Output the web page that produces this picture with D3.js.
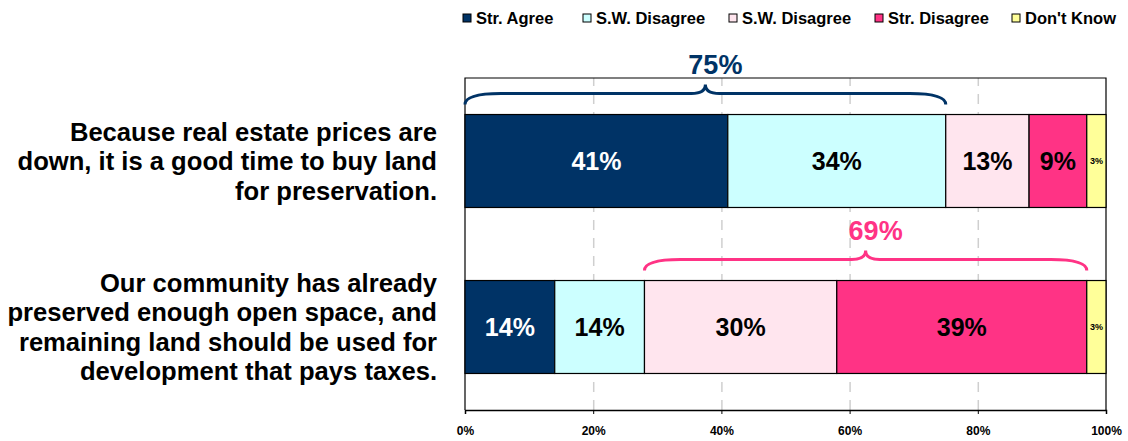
<html>
<head>
  <meta charset="UTF-8">
  <title>Land preservation opinions</title>
  <script src="https://d3js.org/d3.v7.min.js"></script>
  <style>
    body { margin: 0; background: #fff; }
    text { font-family: "Liberation Sans", Arial, sans-serif; font-weight: bold; }
  </style>
</head>
<body>
    <svg id="svg1" width="1128" height="441"></svg>

    <script>
        // data
        const questions = [
            ["Because real estate prices are", "down, it is a good time to buy land", "for preservation."],
            ["Our community has already", "preserved enough open space, and", "remaining land should be used for", "development that pays taxes."]
        ];
        const categories = ["Str. Agree", "S.W. Disagree", "S.W. Disagree", "Str. Disagree", "Don't Know"];
        const colors = ["#003366", "#CCFFFF", "#FFE5EE", "#FF3385", "#FFFF99"];
        const values = [
            [41, 34, 13, 9, 3],
            [14, 14, 30, 39, 3]
        ];
        const ticks = [0, 20, 40, 60, 80, 100];
        // which segments each brace groups together
        const braces = [
            { row: 0, first: 0, last: 1, color: "#003366" },
            { row: 1, first: 2, last: 3, color: "#FF3385" }
        ];

        const svg1 = d3.select("#svg1");
        const margin = { top: 78, right: 22, bottom: 31, left: 465 };
        const width = +svg1.attr("width");
        const height = +svg1.attr("height");
        const plotWidth = width - margin.left - margin.right;
        const plotHeight = height - margin.top - margin.bottom;

        const plot = svg1.append("g")
                        .attr("transform", `translate(${margin.left},${margin.top})`);

        const xScale = d3.scaleLinear([0, 100], [0, plotWidth]);
        const yScale = d3.scaleBand(d3.range(questions.length), [0, plotHeight])
                        .paddingInner(0.44).paddingOuter(0.22);

        // gridlines
        let grid = d3.axisBottom(xScale).tickValues(ticks.slice(1, -1)).tickFormat("").tickSize(-plotHeight);
        plot.append("g")
            .attr("class", "x gridlines")
            .attr("transform", `translate(0,${plotHeight})`)
            .call(grid)
            .call(g => g.select(".domain").remove())
            .call(g => g.selectAll("line").attr("stroke", "#cfcfcf").attr("stroke-width", 1.5).attr("stroke-dasharray", "10,8"));

        // frame
        plot.append("path")
            .attr("d", `M0,${plotHeight}V0H${plotWidth}V${plotHeight}`)
            .attr("fill", "none")
            .attr("stroke", "#000")
            .attr("stroke-width", 1.2);

        // bottom axis
        let bottomAxis = d3.axisBottom(xScale).tickValues(ticks).tickFormat(d => d + "%").tickSize(4).tickPadding(12);
        plot.append("g")
            .attr("class", "x axis")
            .attr("transform", `translate(0,${plotHeight})`)
            .call(bottomAxis)
            .call(g => g.select(".domain").attr("stroke-width", 1.5))
            .call(g => g.selectAll("text").attr("font-size", "12px").attr("fill", "#000")
                    .style("font-family", "'Liberation Sans', Arial, sans-serif").style("font-weight", "bold"));

        // stacked segments
        const rows = values.map((vals, i) => {
            let start = 0;
            return vals.map((v, j) => {
                let seg = { row: i, cat: j, value: v, x0: start, x1: start + v };
                start += v;
                return seg;
            });
        });

        let rowG = plot.selectAll("g.row").data(rows).join("g").attr("class", "row");

        rowG.selectAll("rect").data(d => d).join("rect")
            .attr("x", d => xScale(d.x0))
            .attr("y", d => yScale(d.row))
            .attr("width", d => xScale(d.x1) - xScale(d.x0))
            .attr("height", yScale.bandwidth())
            .attr("fill", d => colors[d.cat])
            .attr("stroke", "#000")
            .attr("stroke-width", 1.2);

        rowG.selectAll("text").data(d => d).join("text")
            .attr("x", d => xScale((d.x0 + d.x1) / 2))
            .attr("y", d => yScale(d.row) + yScale.bandwidth() / 2)
            .attr("dy", "0.36em")
            .attr("text-anchor", "middle")
            .attr("font-size", d => d.value < 5 ? "9px" : "25px")
            .attr("fill", d => d.cat == 0 ? "#fff" : "#000")
            .text(d => d.value + "%");

        // braces above the bars
        braces.forEach(b => {
            let segs = rows[b.row].slice(b.first, b.last + 1);
            let lo = segs[0].x0, hi = segs[segs.length - 1].x1;
            let total = d3.sum(segs, s => s.value);
            let x0 = xScale(lo), x1 = xScale(hi), mid = (x0 + x1) / 2;
            let top = yScale(b.row);
            let yEnd = top - 10, yLine = top - 21, yTip = top - 30;
            let r = 36, r2 = 14;
            let p = `M${x0},${yEnd} Q${x0},${yLine} ${x0 + r},${yLine} L${mid - r2},${yLine} Q${mid},${yLine} ${mid},${yTip}`
                  + ` Q${mid},${yLine} ${mid + r2},${yLine} L${x1 - r},${yLine} Q${x1},${yLine} ${x1},${yEnd}`;
            plot.append("path")
                .attr("d", p)
                .attr("fill", "none")
                .attr("stroke", b.color)
                .attr("stroke-width", 3);
            plot.append("text")
                .attr("x", mid + 10)
                .attr("y", yTip - 11)
                .attr("text-anchor", "middle")
                .attr("font-size", "27px")
                .attr("fill", b.color)
                .text(total + "%");
        });

        // question labels
        questions.forEach((lines, i) => {
            let cy = margin.top + yScale(i) + yScale.bandwidth() / 2;
            let lh = 29.5;
            let t = svg1.append("text")
                .attr("text-anchor", "end")
                .attr("font-size", "25.6px")
                .attr("fill", "#000");
            lines.forEach((line, k) => {
                t.append("tspan")
                    .attr("x", 437)
                    .attr("y", cy + (k - (lines.length - 1) / 2) * lh)
                    .attr("dy", "0.36em")
                    .text(line);
            });
        });

        // legend
        const legendX = [463, 583, 729, 875, 1012];
        let legend = svg1.selectAll("g.legend").data(categories).join("g")
            .attr("class", "legend")
            .attr("transform", (d, i) => `translate(${legendX[i]},14)`);
        legend.append("rect")
            .attr("width", 8).attr("height", 8)
            .attr("fill", (d, i) => colors[i])
            .attr("stroke", "#000")
            .attr("stroke-width", 1);
        legend.append("text")
            .attr("x", 13)
            .attr("y", 4)
            .attr("dy", "0.36em")
            .attr("font-size", "16.5px")
            .attr("fill", "#000")
            .text(d => d);
    </script>
</body>
</html>
